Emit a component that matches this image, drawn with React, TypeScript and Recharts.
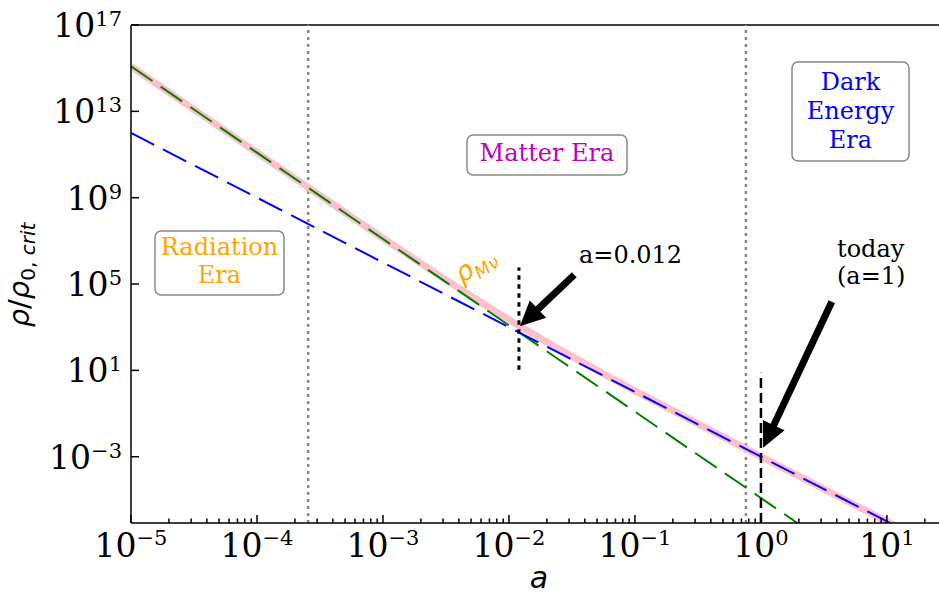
import { LineChart, Line, XAxis, YAxis, ReferenceLine } from "recharts";

// scale factor a and the energy densities
const scaleFactor = [1e-5, 1e-4, 1e-3, 3e-3, 6e-3, 1.2e-2, 2.5e-2, 5e-2, 1e-1, 1, 10, 25];
const radiation = [1.22e15, 1.22e11, 1.22e7, 1.51e5, 9.41e3, 588, 31.2, 1.95, 0.122, 1.22e-5, 1.22e-9, 3.1e-11];
const matter = [1e12, 1e9, 1e6, 3.7e4, 4.63e3, 579, 64, 8, 1, 1e-3, 1e-6, 6.4e-8];
const total = [1.221e15, 1.23e11, 1.32e7, 1.88e5, 1.4e4, 1167, 95.2, 9.95, 1.12, 1.01e-3, 1.0e-6, 6.4e-8];

const xMajorTicks = [1e-5, 1e-4, 1e-3, 1e-2, 1e-1, 1, 10];
const xTickLabels = ["\u22125", "\u22124", "\u22123", "\u22122", "\u22121", "0", "1"];
const yTicks = [1e17, 1e13, 1e9, 1e5, 1e1, 1e-3];
const yTickLabels = ["17", "13", "9", "5", "1", "\u22123"];
const minorSteps = [2, 3, 4, 5, 6, 7, 8, 9];

const xDomain = [1e-5, 25.9];
const yDomain = [8.5e-7, 1e17];

// era boundaries (gray dotted) and marker lines
const eraBounds = [2.55e-4, 0.76];
const equality = 0.012;
const today = 1;

// annotation arrows: [tail, tip] in data coords
const arrowEquality = [{ x: 0.033, y: 2.7e5 }, { x: 0.0122, y: 1.1e3 }];
const arrowToday = [{ x: 3.65, y: 1.5e4 }, { x: 1.04, y: 2.6e-3 }];

const data = scaleFactor.map((a, i) => ({
  a,
  radiation: radiation[i],
  matter: matter[i],
  total: total[i],
}));

const xTicks = [
  ...xMajorTicks,
  ...xMajorTicks.flatMap((d) => minorSteps.map((m) => m * d)).filter((v) => v < xDomain[1]),
].sort((p, q) => p - q);

const SERIF = "DejaVu Serif";
const SANS = "DejaVu Sans";

function XTick(props: any) {
  const { x, y, payload } = props;
  const idx = xMajorTicks.findIndex((v) => Math.abs(v - payload.value) / v < 1e-6);
  const major = idx >= 0;
  return (
    <g>
      <line x1={x} x2={x} y1={y} y2={y - (major ? 8 : 4.5)} stroke="#000" strokeWidth={1.5} />
      {major && (
        <text x={x} y={y + 34} textAnchor="middle" fontFamily={SERIF} fill="#000">
          <tspan fontSize={33}>10</tspan>
          <tspan fontSize={21} dy={-12}>{xTickLabels[idx]}</tspan>
        </text>
      )}
    </g>
  );
}

function YTick(props: any) {
  const { x, y, payload } = props;
  const idx = yTicks.findIndex((v) => Math.abs(v - payload.value) / v < 1e-6);
  return (
    <g>
      <line x1={x} x2={x + 8} y1={y} y2={y} stroke="#000" strokeWidth={1.5} />
      <text x={x - 9} y={y + 12} textAnchor="end" fontFamily={SERIF} fill="#000">
        <tspan fontSize={33}>10</tspan>
        <tspan fontSize={21} dy={-11}>{yTickLabels[idx]}</tspan>
      </text>
    </g>
  );
}

function Arrow(props: any) {
  const { x1, y1, x2, y2 } = props;
  const dx = x2 - x1;
  const dy = y2 - y1;
  const len = Math.hypot(dx, dy) || 1;
  const ux = dx / len;
  const uy = dy / len;
  const px = -uy;
  const py = ux;
  const hl = 25;
  const hw = 12;
  const sw = 3.5;
  const bx = x2 - ux * hl;
  const by = y2 - uy * hl;
  const pts = [
    [x1 + px * sw, y1 + py * sw],
    [bx + px * sw, by + py * sw],
    [bx + px * hw, by + py * hw],
    [x2, y2],
    [bx - px * hw, by - py * hw],
    [bx - px * sw, by - py * sw],
    [x1 - px * sw, y1 - py * sw],
  ];
  return <polygon points={pts.map((p) => p.join(",")).join(" ")} fill="#000" />;
}

export default function App() {
  return (
    <div style={{ position: "absolute", left: 0, top: 0, width: 939, height: 597, overflow: "hidden", background: "#fff" }}>
      <LineChart width={939} height={597} data={data} margin={{ top: 25, right: 0, bottom: 34, left: 71 }}>
        <XAxis
          dataKey="a"
          type="number"
          scale="log"
          domain={xDomain}
          allowDataOverflow
          ticks={xTicks}
          interval={0}
          height={40}
          tickSize={0}
          tickMargin={0}
          tickLine={false}
          tick={<XTick />}
          axisLine={{ stroke: "#000", strokeWidth: 1.5 }}
        />
        <YAxis
          type="number"
          scale="log"
          domain={yDomain}
          allowDataOverflow
          ticks={yTicks}
          interval={0}
          width={60}
          tickSize={0}
          tickMargin={0}
          tickLine={false}
          tick={<YTick />}
          axisLine={{ stroke: "#000", strokeWidth: 1.5 }}
        />
        <ReferenceLine y={1e17} stroke="#000" strokeWidth={1.5} />
        {eraBounds.map((b) => (
          <ReferenceLine key={b} x={b} stroke="#888" strokeWidth={2.5} strokeDasharray="3 4" />
        ))}
        <Line dataKey="total" stroke="#FFC0CB" strokeWidth={7} dot={false} activeDot={false} isAnimationActive={false} />
        <Line dataKey="radiation" stroke="#008000" strokeWidth={2} strokeDasharray="26 10" dot={false} activeDot={false} isAnimationActive={false} />
        <Line dataKey="matter" stroke="#0000FF" strokeWidth={2} strokeDasharray="26 10" dot={false} activeDot={false} isAnimationActive={false} />
        <ReferenceLine
          segment={[{ x: equality, y: 10.7 }, { x: equality, y: 5.8e5 }]}
          stroke="#000"
          strokeWidth={3}
          strokeDasharray="4.5 4.5"
        />
        <ReferenceLine
          segment={[{ x: today, y: yDomain[0] }, { x: today, y: 7.8 }]}
          stroke="#000"
          strokeWidth={2.5}
          strokeDasharray="10 5"
        />
        <ReferenceLine segment={arrowEquality} shape={Arrow} />
        <ReferenceLine segment={arrowToday} shape={Arrow} />
      </LineChart>

      <svg width={939} height={597} style={{ position: "absolute", left: 0, top: 0, pointerEvents: "none" }}>
        {/* era boxes */}
        <rect x={155} y={231} width={129} height={64} rx={6} fill="#fff" stroke="#888" strokeWidth={1.5} />
        <text x={219.5} y={255} textAnchor="middle" fontFamily={SERIF} fontSize={24} fill="#FFA500">Radiation</text>
        <text x={219.5} y={283} textAnchor="middle" fontFamily={SERIF} fontSize={24} fill="#FFA500">Era</text>

        <rect x={467} y={135} width={160} height={40} rx={6} fill="#fff" stroke="#888" strokeWidth={1.5} />
        <text x={547} y={161} textAnchor="middle" fontFamily={SERIF} fontSize={24} fill="#BF00BF">Matter Era</text>

        <rect x={792} y={62} width={117} height={99} rx={6} fill="#fff" stroke="#888" strokeWidth={1.5} />
        <text x={850.5} y={90} textAnchor="middle" fontFamily={SERIF} fontSize={24} fill="#0000FF">Dark</text>
        <text x={850.5} y={119} textAnchor="middle" fontFamily={SERIF} fontSize={24} fill="#0000FF">Energy</text>
        <text x={850.5} y={148} textAnchor="middle" fontFamily={SERIF} fontSize={24} fill="#0000FF">Era</text>

        {/* annotations */}
        <text x={579} y={263} fontFamily={SERIF} fontSize={24} fill="#000">a=0.012</text>
        <text x={837} y={257} fontFamily={SERIF} fontSize={24} fill="#000">today</text>
        <text x={837} y={284} fontFamily={SERIF} fontSize={24} fill="#000">(a=1)</text>

        <text transform="translate(462,284) rotate(-34)" fontFamily={SANS} fill="#FFA500">
          <tspan fontSize={27} fontStyle="italic">ρ</tspan>
          <tspan fontSize={18} fontStyle="italic" dy={6}>Mν</tspan>
        </text>

        {/* axis labels */}
        <text transform="translate(29,275) rotate(-90)" textAnchor="middle" fontFamily={SANS} fill="#000">
          <tspan fontSize={29} fontStyle="italic">ρ</tspan>
          <tspan fontSize={29}>/</tspan>
          <tspan fontSize={29} fontStyle="italic">ρ</tspan>
          <tspan fontSize={20} dy={6}>0, </tspan>
          <tspan fontSize={20} fontStyle="italic">crit</tspan>
        </text>
        <text x={539} y={588} textAnchor="middle" fontFamily={SANS} fontSize={30} fontStyle="italic" fill="#000">a</text>
      </svg>
    </div>
  );
}
